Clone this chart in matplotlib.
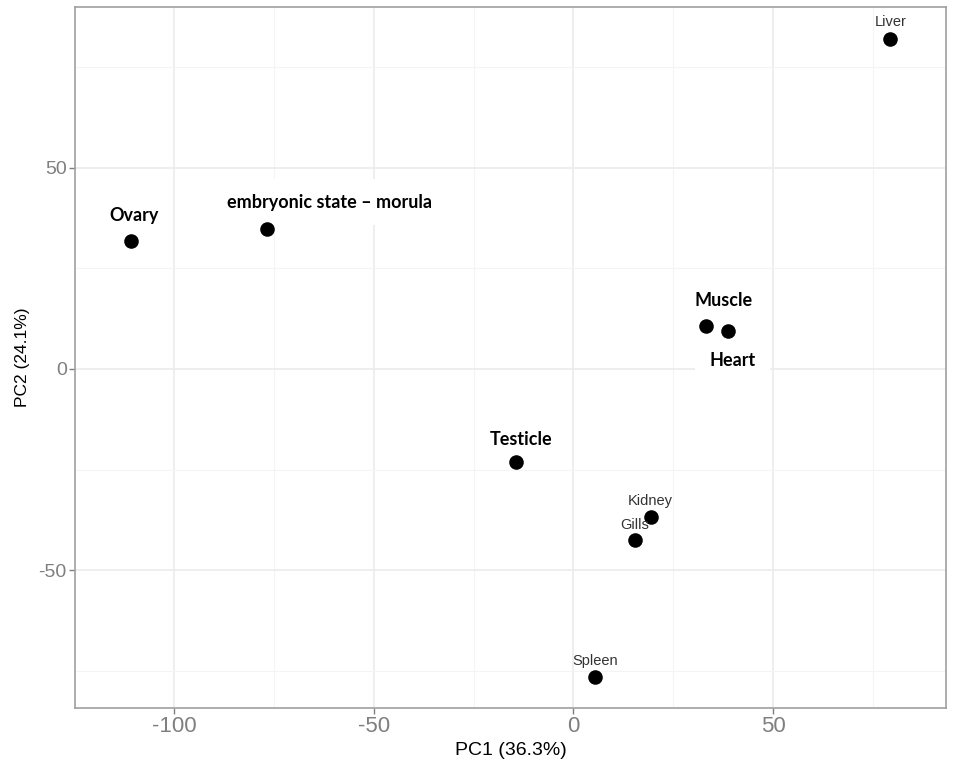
import matplotlib
matplotlib.use("Agg")
import matplotlib.pyplot as plt
from matplotlib.ticker import MultipleLocator

plt.rcParams["axes.unicode_minus"] = False

# PCA scores
tissues = ["Liver", "Ovary", "embryonic state \u2013 morula", "Muscle", "Heart",
           "Testicle", "Kidney", "Gills", "Spleen"]
pc1 = [79.3, -110.8, -76.8, 33.3, 38.8, -14.3, 19.3, 15.5, 5.5]
pc2 = [82.0, 31.9, 34.7, 10.7, 9.5, -23.2, -36.9, -42.6, -76.6]
bold = [False, True, True, True, True, True, False, False, False]

# label offsets in pixels (dx, dy)
OFFSETS = {
    "Liver": (0, 17),
    "Ovary": (3, 25),
    "embryonic state \u2013 morula": (63, 27),
    "Muscle": (17, 25),
    "Heart": (4, -30),
    "Testicle": (5, 23),
    "Kidney": (0, 16),
    "Gills": (-1, 15),
    "Spleen": (0, 16),
}

GRID_MAJOR = "#EBEBEB"
GRID_MINOR = "#F4F4F4"
TICK_GREY = "#7F7F7F"
SPINE = "#A0A0A0"

fig = plt.figure(figsize=(9.55, 7.68), dpi=100, facecolor="white")
ax = fig.add_axes([0.0785, 0.0781, 0.9121, 0.9128])

ax.set_xlim(-124.75, 93.25)
ax.set_ylim(-84.3, 90.0)

ax.xaxis.set_major_locator(MultipleLocator(50))
ax.xaxis.set_minor_locator(MultipleLocator(25))
ax.yaxis.set_major_locator(MultipleLocator(50))
ax.yaxis.set_minor_locator(MultipleLocator(25))
ax.grid(True, which="major", color=GRID_MAJOR, linewidth=1.2)
ax.grid(True, which="minor", color=GRID_MINOR, linewidth=0.8)
ax.set_axisbelow(True)

for s in ax.spines.values():
    s.set_color(SPINE)
    s.set_linewidth(1.2)

ax.tick_params(which="major", length=4, width=1, color=TICK_GREY, labelcolor=TICK_GREY)
ax.tick_params(which="minor", length=0)
ax.tick_params(axis="x", labelsize=16, pad=2)
ax.tick_params(axis="y", labelsize=14, pad=2)
for lab in ax.get_xticklabels() + ax.get_yticklabels():
    lab.set_family("Liberation Sans")

ax.scatter(pc1, pc2, s=110, color="black", zorder=3, linewidths=0)

for name, x, y, b in zip(tissues, pc1, pc2, bold):
    dx, dy = OFFSETS[name]
    if b:
        ax.annotate(name, (x, y), xytext=(dx, dy), textcoords="offset pixels",
                    ha="center", va="center", fontsize=13, fontweight="bold",
                    family=["Lato", "DejaVu Sans"], color="black", zorder=2,
                    bbox=dict(boxstyle="square,pad=0.8", fc="white", ec="none"))
    else:
        ax.annotate(name, (x, y), xytext=(dx, dy), textcoords="offset pixels",
                    ha="center", va="center", fontsize=10.5,
                    family="Liberation Sans", color="#333333", zorder=4)

ax.set_xlabel("PC1 (36.3%)", fontsize=14, family="Liberation Sans", labelpad=3)
ax.set_ylabel("PC2 (24.1%)", fontsize=12.5, family="Liberation Sans", labelpad=6)

fig.savefig("out.png", dpi=100, facecolor="white")
